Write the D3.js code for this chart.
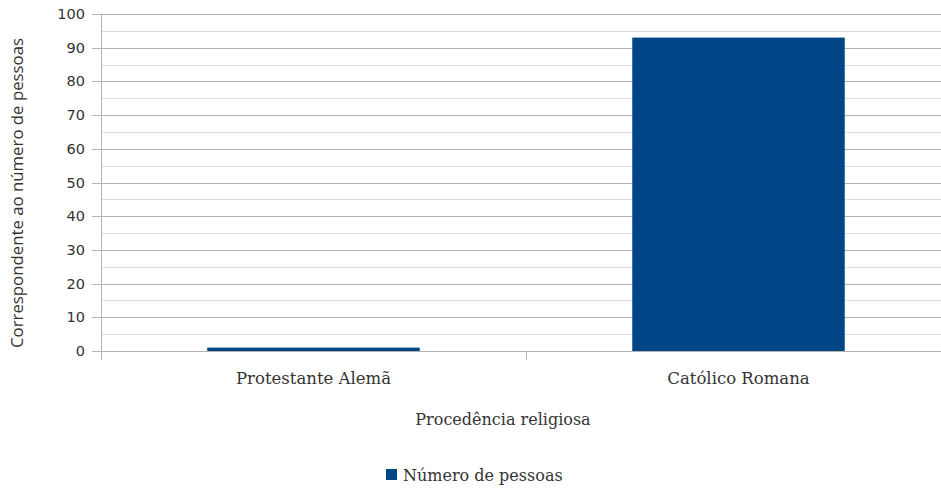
<!DOCTYPE html>
<html>
<head>
<meta charset="utf-8">
<script src="https://cdn.jsdelivr.net/npm/d3@7"></script>
<style>
  html, body { margin: 0; padding: 0; background: #fff; }
  svg { display: block; }
  text { fill: #333; }
  .serif { font-family: "DejaVu Serif", serif; }
  .sans { font-family: "DejaVu Sans", sans-serif; }
  .title-y { font-family: "Open Sans", sans-serif; }
</style>
</head>
<body>
<svg id="chart" width="941" height="488"></svg>
<script>
// Religious origin vs. number of people
const categories = ["Protestante Alemã", "Católico Romana"];
const values = [1, 93];
const seriesName = "Número de pessoas";
const yTicks = [0, 10, 20, 30, 40, 50, 60, 70, 80, 90, 100];
const yMinorTicks = [5, 15, 25, 35, 45, 55, 65, 75, 85, 95];
const xTitle = "Procedência religiosa";
const yTitle = "Correspondente ao número de pessoas";

const svg = d3.select("#chart");
const plotLeft = 101, plotRight = 951, plotTop = 14, plotBottom = 351;

const x = d3.scaleBand().domain(categories).range([plotLeft, plotRight]).paddingInner(0.5).paddingOuter(0.25);
const y = d3.scaleLinear().domain([0, 100]).range([plotBottom, plotTop]);

// minor gridlines
svg.append("g").selectAll("line").data(yMinorTicks).join("line")
  .attr("x1", plotLeft).attr("x2", 941)
  .attr("y1", d => Math.round(y(d)) + 0.5).attr("y2", d => Math.round(y(d)) + 0.5)
  .attr("stroke", "#dddddd").attr("stroke-width", 1);

// major gridlines with ticks extending left of the axis
svg.append("g").selectAll("line").data(yTicks).join("line")
  .attr("x1", plotLeft - 9).attr("x2", 941)
  .attr("y1", d => Math.round(y(d)) + 0.5).attr("y2", d => Math.round(y(d)) + 0.5)
  .attr("stroke", "#b3b3b3").attr("stroke-width", 1);

// y tick labels
svg.append("g").selectAll("text").data(yTicks).join("text")
  .attr("class", "sans")
  .attr("x", 85).attr("y", d => y(d) + 5)
  .attr("text-anchor", "end").attr("font-size", 14.5)
  .text(d => d);

// y axis line
svg.append("line")
  .attr("x1", plotLeft + 0.5).attr("x2", plotLeft + 0.5)
  .attr("y1", plotTop).attr("y2", plotBottom)
  .attr("stroke", "#b3b3b3");

// x category boundary ticks
const step = x.step();
const boundaries = [plotLeft, plotLeft + step, plotLeft + 2 * step];
svg.append("g").selectAll("line").data(boundaries).join("line")
  .attr("x1", d => Math.round(d) + 0.5).attr("x2", d => Math.round(d) + 0.5)
  .attr("y1", plotBottom).attr("y2", plotBottom + 9)
  .attr("stroke", "#b3b3b3");

// bars
svg.append("g").selectAll("rect").data(values).join("rect")
  .attr("x", (d, i) => x(categories[i]))
  .attr("width", x.bandwidth())
  .attr("y", d => y(d))
  .attr("height", d => y(0) - y(d))
  .attr("fill", "#004586");

// category labels
svg.append("g").selectAll("text").data(categories).join("text")
  .attr("class", "serif")
  .attr("x", d => x(d) + x.bandwidth() / 2).attr("y", 384)
  .attr("text-anchor", "middle").attr("font-size", 16.5)
  .text(d => d);

// axis titles
svg.append("text")
  .attr("class", "serif")
  .attr("x", 503).attr("y", 425)
  .attr("text-anchor", "middle").attr("font-size", 16)
  .text(xTitle);

svg.append("text")
  .attr("class", "title-y")
  .attr("transform", "translate(23,193) rotate(-90)")
  .attr("text-anchor", "middle").attr("font-size", 16.8)
  .text(yTitle);

// legend
svg.append("rect").attr("x", 386).attr("y", 469).attr("width", 11).attr("height", 11).attr("fill", "#004586");
svg.append("text").attr("class", "serif").attr("x", 403).attr("y", 481).attr("font-size", 16).text(seriesName);
</script>
</body>
</html>
